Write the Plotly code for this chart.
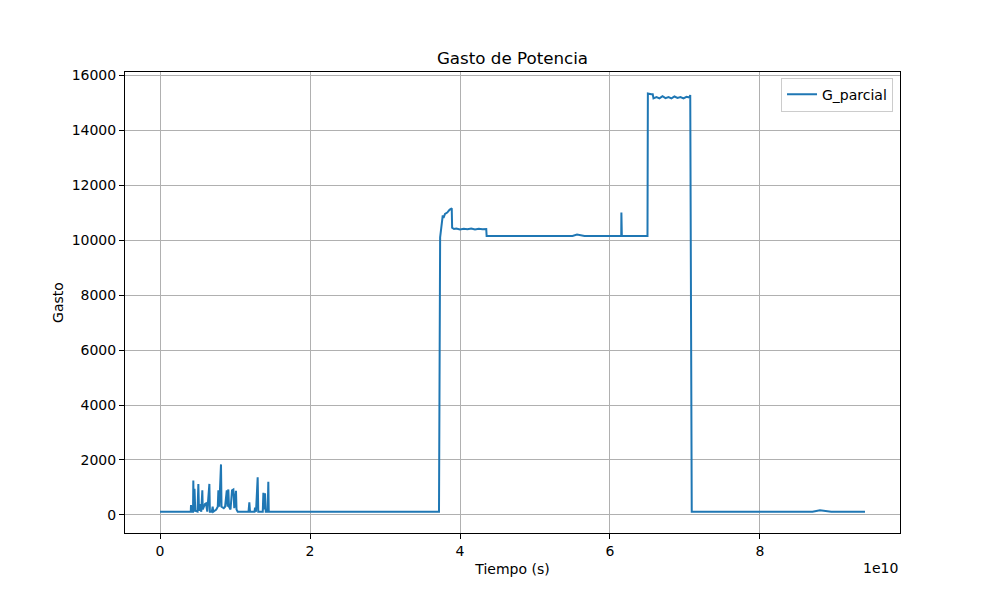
import plotly.graph_objects as go

# tiempo en unidades de 1e10 s, gasto
tiempo_e10 = [
    0.00, 0.40, 0.41, 0.413, 0.42, 0.44, 0.444, 0.45, 0.46, 0.47, 0.50, 0.511, 0.52, 0.53,
    0.55, 0.564, 0.57, 0.59, 0.60, 0.613, 0.63, 0.658, 0.665, 0.69, 0.702, 0.71, 0.75,
    0.77, 0.778, 0.79, 0.813, 0.82, 0.85, 0.867, 0.88, 0.89, 0.90, 0.911, 0.92, 0.94,
    0.96, 0.978, 0.99, 1.005, 1.013, 1.02, 1.036, 1.10, 1.18, 1.191, 1.20, 1.26, 1.267,
    1.28, 1.302, 1.31, 1.37, 1.378, 1.385, 1.40, 1.41, 1.435, 1.444, 1.45,
    2.80, 3.60, 3.72, 3.735, 3.74, 3.745, 3.75, 3.76, 3.77, 3.78, 3.80, 3.83, 3.86, 3.89,
    3.895, 3.92, 3.95, 4.00, 4.05, 4.10, 4.15, 4.20, 4.25, 4.30, 4.34, 4.35, 4.355,
    5.00, 5.50, 5.56, 5.62, 5.66, 6.15, 6.152, 6.158, 6.50, 6.505, 6.55, 6.57, 6.58,
    6.62, 6.66, 6.70, 6.74, 6.78, 6.82, 6.86, 6.90, 6.94, 6.98, 7.02, 7.06, 7.07, 7.09,
    8.00, 8.70, 8.80, 8.90, 8.95, 9.40,
]
gasto = [
    120, 120, 120, 364, 120, 120, 1250, 120, 950, 150, 120, 1130, 150, 400,
    120, 900, 200, 350, 400, 420, 120, 1130, 120, 120, 300, 120, 200,
    300, 900, 300, 1840, 300, 250, 300, 900, 900, 300, 930, 300, 200,
    900, 930, 250, 880, 880, 200, 120, 120, 120, 460, 120, 120, 270,
    120, 1370, 120, 120, 810, 200, 790, 120, 120, 1210, 120,
    120, 120, 120, 10100, 10200, 10500, 10400, 10600, 10900, 10800, 10950, 11000, 11100, 11150,
    10450, 10400, 10420, 10380, 10410, 10390, 10420, 10380, 10410, 10390, 10420, 10400, 10150,
    10150, 10150, 10200, 10180, 10150, 10150, 11000, 10150, 10150, 15330, 15300, 15300, 15150,
    15200, 15150, 15230, 15160, 15200, 15150, 15220, 15170, 15200, 15150, 15210, 15180, 15270, 120,
    120, 120, 170, 150, 120, 120,
]
tiempo = [t * 1e10 for t in tiempo_e10]

x_ticks = [0, 2, 4, 6, 8]
y_ticks = [0, 2000, 4000, 6000, 8000, 10000, 12000, 14000, 16000]

fig = go.Figure()
fig.add_trace(go.Scatter(x=tiempo, y=gasto, mode='lines', name='G_parcial',
                         line=dict(color='#1f77b4', width=2)))

axis_style = dict(showline=True, linecolor='black', linewidth=1, mirror=True,
                  ticks='outside', ticklen=5, tickcolor='black', automargin=False,
                  showgrid=True, gridcolor='#b0b0b0', gridwidth=1, zeroline=False,
                  tickfont=dict(size=14, color='black'))

# la pagina tiene 8px de margen en el body, se compensa aqui
fig.update_layout(
    width=1000, height=600,
    margin=dict(l=117, r=108, t=64, b=75),
    paper_bgcolor='white', plot_bgcolor='white',
    font=dict(family='DejaVu Sans', color='black'),
    title=dict(text='Gasto de Potencia', x=0.5, xanchor='center', xref='paper',
               y=0.9167, yanchor='middle', font=dict(size=16.7)),
    xaxis=dict(range=[-0.467e10, 9.867e10], tickvals=[v * 1e10 for v in x_ticks],
               ticktext=[str(v) for v in x_ticks],
               title=dict(text='Tiempo (s)', font=dict(size=14), standoff=6), **axis_style),
    yaxis=dict(range=[-655, 16110], tickvals=y_ticks, ticktext=[str(v) for v in y_ticks],
               title=dict(text='Gasto', font=dict(size=14), standoff=4), **axis_style),
    showlegend=True,
    legend=dict(x=0.991, xanchor='right', y=0.988, yanchor='top', bgcolor='white',
                bordercolor='#cccccc', borderwidth=1, font=dict(size=14)),
)

fig.add_annotation(text='1e10', xref='paper', yref='paper', x=1, xanchor='right',
                   y=-0.076, yanchor='middle', showarrow=False, font=dict(size=14))

fig.write_html("out.html")
